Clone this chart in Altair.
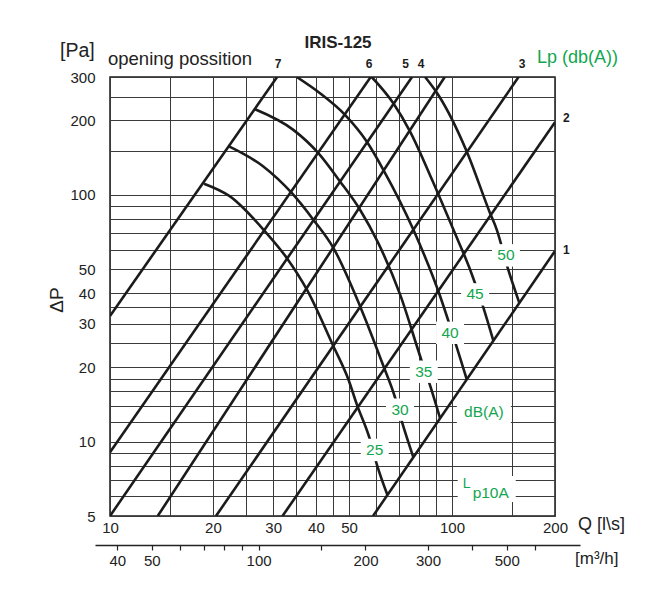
import json
import altair as alt
import pandas as pd

GREEN = "#12a650"
INK = "#1b1b1b"

# ---- axes -------------------------------------------------------------
q_grid = [10, 15, 20, 25, 30, 35, 40, 45, 50, 60, 70, 80, 90, 100, 150, 200]
q_labels = [10, 20, 30, 40, 50, 100, 200]
p_grid = [5, 6, 7, 8, 9, 10, 12, 14, 16, 18, 20, 25, 30, 35, 40, 50, 60, 70,
          80, 90, 100, 150, 200, 250, 300]
p_labels = [5, 10, 20, 30, 40, 50, 100, 200, 300]
m3h_ticks = [40, 50, 60, 70, 80, 90, 100, 150, 200, 300, 400, 500, 600]
m3h_labels = [40, 50, 100, 200, 300, 500]

# ---- opening position lines (end points, Q l/s and dP Pa) --------------
positions = ["1", "2", "3", "4", "5", "6", "7"]
pos_q_start = [58.75, 31.94, 20.41, 13.79, 10.0, 10.0, 10.0]
pos_p_start = [5.0, 5.0, 5.0, 5.0, 5.0, 9.05, 32.3]
pos_q_end = [200.0, 200.0, 156.5, 95.2, 76.4, 57.84, 30.8]
pos_p_end = [59.2, 196.8, 300.0, 300.0, 300.0, 300.0, 300.0]

top_label_text = ["7", "6", "5", "4", "3"]
top_label_q = [31.0, 57.2, 73.2, 81.2, 160.2]
top_label_p = [300, 300, 300, 300, 300]
side_label_text = ["2", "1"]
side_label_q = [200, 200]
side_label_p = [204.0, 59.5]

# ---- sound level curves Lp dB(A) --------------------------------------
curve_25_q = [18.83, 22.43, 28.39, 32.87, 37.60, 44.97, 49.75, 52.64, 57.57, 60.23, 64.70]
curve_25_p = [110.9, 98.5, 71.1, 55.5, 41.4, 24.4, 17.9, 14.2, 10.2, 8.12, 6.1]
curve_30_q = [22.28, 28.07, 33.98, 39.30, 44.97, 53.83, 62.97, 68.14, 71.28, 77.05]
curve_30_p = [157.0, 130.2, 101.7, 79.3, 61.0, 35.4, 20.3, 15.1, 12.1, 8.65]
curve_35_q = [26.55, 34.36, 40.66, 47.04, 53.83, 60.77, 70.47, 81.19, 86.25, 92.25]
curve_35_p = [222.1, 183.2, 147.5, 113.3, 87.0, 64.0, 39.5, 21.6, 16.9, 12.45]
curve_40_q = [35.15, 41.11, 48.65, 56.31, 62.97, 77.05, 92.25, 98.67, 110.4]
curve_40_p = [300.0, 257.8, 210.7, 164.3, 126.3, 72.3, 38.9, 29.4, 17.9]
curve_45_q = [58.24, 67.36, 75.40, 87.41, 100.9, 112.9, 123.5, 132.1]
curve_45_p = [300.0, 234.8, 180.4, 115.1, 72.3, 49.8, 34.9, 25.6]
curve_50_q = [83.40, 91.19, 110.4, 129.1, 135.1, 145.3, 157.3]
curve_50_p = [300.0, 253.7, 149.8, 84.4, 72.3, 50.8, 36.5]

curve_levels = ["25", "30", "35", "40", "45", "50"]
curve_label_q = [59.43, 70.47, 82.67, 98.67, 116.8, 143.7]
curve_label_p = [9.26, 13.48, 19.2, 27.6, 39.5, 56.85]
dba_q, dba_p = [123.9], [13.23]
lp10_q, lp10_p = [126.3], [6.43]

# ---- data frames -------------------------------------------------------
line_rows = []
for pos, q0, p0, q1, p1 in zip(positions, pos_q_start, pos_p_start, pos_q_end, pos_p_end):
    line_rows.append({"pos": pos, "Q": q0, "P": p0, "o": 0})
    line_rows.append({"pos": pos, "Q": q1, "P": p1, "o": 1})
df_lines = pd.DataFrame(line_rows)

curve_data = {
    "25": (curve_25_q, curve_25_p), "30": (curve_30_q, curve_30_p),
    "35": (curve_35_q, curve_35_p), "40": (curve_40_q, curve_40_p),
    "45": (curve_45_q, curve_45_p), "50": (curve_50_q, curve_50_p),
}
curve_rows = []
for lvl, (qs, ps) in curve_data.items():
    for i, (q, p) in enumerate(zip(qs, ps)):
        curve_rows.append({"level": lvl, "Q": q, "P": p, "o": i})
df_curves = pd.DataFrame(curve_rows)

df_clab = pd.DataFrame({"Q": curve_label_q, "P": curve_label_p, "text": curve_levels})
df_dba = pd.DataFrame({"Q": dba_q, "P": dba_p, "text": ["dB(A)"]})
df_lp = pd.DataFrame({"Q": lp10_q, "P": lp10_p, "L": ["L"], "sub": ["p10A"]})
df_top = pd.DataFrame({"Q": top_label_q, "P": top_label_p, "text": top_label_text})
df_side = pd.DataFrame({"Q": side_label_q, "P": side_label_p, "text": side_label_text})


def label_expr(vals):
    return f"indexof({json.dumps(vals)}, datum.value) >= 0 ? format(datum.value, 'd') : ''"


x_scale = alt.Scale(type="log", domain=[10, 200], nice=False)
y_scale = alt.Scale(type="log", domain=[5, 300], nice=False)
x_axis = alt.Axis(values=q_grid, grid=True, gridColor="#3a3a3a", gridWidth=1,
                  ticks=False, domain=False, labelExpr=label_expr(q_labels),
                  labelPadding=4, labelFontSize=15, labelColor="#222",
                  labelFlush=False, labelOverlap=False, labelBound=False, title=None)
y_axis = alt.Axis(values=p_grid, grid=True, gridColor="#3a3a3a", gridWidth=1,
                  ticks=False, domain=False, labelExpr=label_expr(p_labels),
                  labelPadding=15, labelFontSize=15, labelColor="#222",
                  labelFlush=False, labelOverlap=False, labelBound=False, title=None)
X = alt.X("Q:Q", scale=x_scale, axis=x_axis)
Y = alt.Y("P:Q", scale=y_scale, axis=y_axis)

lines = alt.Chart(df_lines).mark_line(color=INK, strokeWidth=2.6, clip=True).encode(
    x=X, y=Y, detail="pos:N", order="o:Q")
curves = alt.Chart(df_curves).mark_line(color=INK, strokeWidth=2.6, clip=True,
                                        interpolate="monotone").encode(
    x=X, y=Y, detail="level:N", order="o:Q")

box_num = alt.Chart(df_clab).mark_point(
    shape="M-1,-0.8L1,-0.8L1,0.8L-1,0.8Z", size=28 * 28, filled=True,
    color="white", opacity=1, strokeWidth=0).encode(x=X, y=Y)
box_dba = alt.Chart(df_dba).mark_point(
    shape="M-1,-0.44L1,-0.44L1,0.44L-1,0.44Z", size=54 * 54, filled=True,
    color="white", opacity=1, strokeWidth=0).encode(x=X, y=Y)
box_lp = alt.Chart(df_lp).mark_point(
    shape="M-1,-0.45L1,-0.45L1,0.45L-1,0.45Z", size=58 * 58, filled=True,
    color="white", opacity=1, strokeWidth=0).encode(x=X, y=Y)

txt_num = alt.Chart(df_clab).mark_text(color=GREEN, fontSize=15.5, baseline="middle").encode(
    x=X, y=Y, text="text:N")
txt_dba = alt.Chart(df_dba).mark_text(color=GREEN, fontSize=15.5, baseline="middle").encode(
    x=X, y=Y, text="text:N")
txt_L = alt.Chart(df_lp).mark_text(color=GREEN, fontSize=14, baseline="middle",
                                   dx=-20, dy=-5).encode(x=X, y=Y, text="L:N")
txt_sub = alt.Chart(df_lp).mark_text(color=GREEN, fontSize=15.5, baseline="middle",
                                     dx=4, dy=4).encode(x=X, y=Y, text="sub:N")

txt_top = alt.Chart(df_top).mark_text(color=INK, fontSize=12, fontWeight="bold",
                                      baseline="alphabetic", dy=-9).encode(
    x=X, y=Y, text="text:N")
txt_side = alt.Chart(df_side).mark_text(color=INK, fontSize=12, fontWeight="bold",
                                        baseline="middle", align="left", dx=8).encode(
    x=X, y=Y, text="text:N")


def note(text, x, y, **kw):
    return alt.Chart(pd.DataFrame({"t": [text]})).mark_text(**kw).encode(
        x=alt.value(x), y=alt.value(y), text="t:N")


notes = [
    note("[Pa]", -50, -20, align="left", baseline="alphabetic", fontSize=19.5, color="#222"),
    note("opening possition", -2, -12, align="left", baseline="alphabetic", fontSize=18.5, color="#222"),
    note("IRIS-125", 228, -29, align="center", baseline="alphabetic", fontSize=17,
         fontWeight="bold", color="#222"),
    note("Lp (db(A))", 427, -14, align="left", baseline="alphabetic", fontSize=18, color=GREEN),
    note("ΔP", -53, 223, align="center", baseline="middle", fontSize=19, angle=270, color="#222"),
    note("Q [l\\s]", 468, 453, align="left", baseline="alphabetic", fontSize=18, color="#222"),
    note("[m³/h]", 465, 487, align="left", baseline="alphabetic", fontSize=17, color="#222"),
]

main = alt.layer(lines, curves, box_num, box_dba, box_lp, txt_num, txt_dba, txt_L,
                 txt_sub, txt_top, txt_side, *notes)

sec = alt.Chart(pd.DataFrame({"m3h": m3h_ticks})).mark_point(opacity=0).encode(
    x=alt.X("m3h:Q",
            scale=alt.Scale(type="log", domain=[34.6, 804], range=[-15, 470], nice=False),
            axis=alt.Axis(orient="bottom", offset=29, values=m3h_ticks,
                          labelExpr=label_expr(m3h_labels), grid=False, ticks=True,
                          tickSize=5, tickColor="#222", tickWidth=1.2, domain=True,
                          domainColor="#222", domainWidth=1.5, labelPadding=3,
                          labelFontSize=15, labelColor="#222", labelFlush=False,
                          labelOverlap=False, labelBound=False, title=None)))

chart = alt.layer(main, sec).resolve_scale(x="independent").properties(
    width=445, height=439,
    autosize=alt.AutoSizeParams(type="none"),
    padding={"left": 102, "top": 69, "right": 100, "bottom": 64},
).configure(font="Liberation Sans").configure_view(stroke=INK, strokeWidth=1.5)

chart.save("out.html", embed_options={"renderer": "svg", "actions": False})
